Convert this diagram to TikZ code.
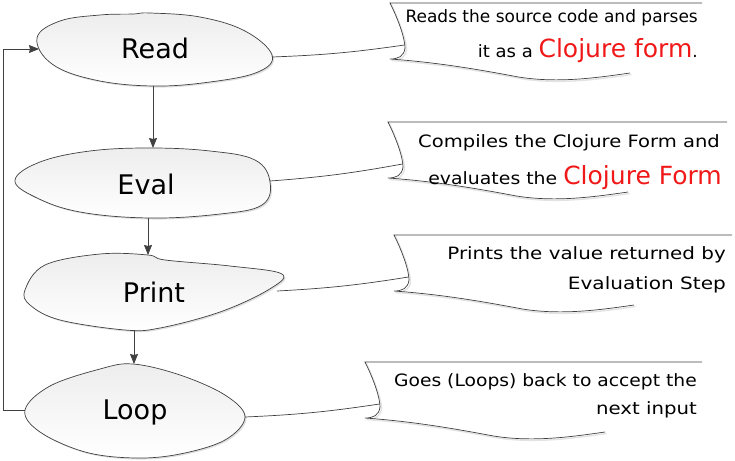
\documentclass[tikz,border=0pt]{standalone}
\usepackage{fontspec}
\usepackage{graphicx}
\setmainfont{DejaVu Sans}
\usetikzlibrary{arrows.meta,shadows}
\definecolor{edge}{HTML}{404040}
\definecolor{cred}{HTML}{F01818}
\newcommand\redtxt[1]{{\fontsize{25}{28}\selectfont\color{cred}#1}}
\newcommand\wide[2]{\scalebox{#1}[1]{#2}}
\tikzset{
  blob/.style={draw=edge, line width=0.7pt, top color=gray!14, bottom color=white,
    drop shadow={opacity=0.25, shadow xshift=1.5pt, shadow yshift=-1.5pt}},
  flow/.style={draw=edge, line width=0.8pt, -{Stealth[length=10pt,width=8pt,inset=1pt]}},
  link/.style={draw=edge, line width=0.7pt},
  blabel/.style={font=\fontsize{27}{30}\selectfont, text=black},
  ctext/.style={font=\fontsize{17}{19}\selectfont, text=black, anchor=base east, inner sep=0pt},
  pics/callout/.style={code={
    \draw[gray!22, line width=1.4pt] (1.5,1.5) .. controls (10,20) and (16.5,38) .. (16.5,46.5)
      .. controls (15.5,55) and (9.5,57.5) .. (1.5,57.5)
      .. controls (50,61) and (90,68) .. (130,75.5) .. controls (170,82) and (210,76) .. (241.5,71.5);
    \draw[edge, line width=0.7pt] (#1,0) -- (0,0) .. controls (9,18) and (15,36) .. (15,45)
      .. controls (14,53.5) and (8,56) .. (0,56)
      .. controls (48.5,59.5) and (88.5,66.5) .. (128.5,74) .. controls (168.5,80.5) and (208.5,74.5) .. (240,70);
    \coordinate (-tip) at (14.5,42);
  }}
}
\begin{document}
\begin{tikzpicture}[x=1pt,y=-1pt]
\useasboundingbox (0,0) rectangle (735,460);

% blobs
\path[blob] plot[smooth cycle, tension=0.65] coordinates {(37,38) (60,21) (100,15) (133,14) (150,13) (200,17) (245,31) (272,55) (258,72) (210,82) (153,86) (95,80) (52,64)};
\path[blob] plot[smooth cycle, tension=0.65] coordinates {(15,180) (40,162) (90,151) (150,148) (210,151) (255,160) (270,182) (262,205) (220,214) (150,218) (80,212) (35,197)};
\path[blob] plot[smooth cycle, tension=0.6] coordinates {(25,290) (45,265) (100,254) (148,255) (165,260) (230,266) (282,274) (268,290) (220,312) (160,328) (125,330) (60,320) (30,305)};
\path[blob] plot[smooth cycle, tension=0.6] coordinates {(25,410) (50,386) (100,369) (133,364) (180,375) (225,395) (245,417) (225,440) (180,454) (135,458) (85,452) (40,432)};

\node[blabel] (read) at (155,48) {Read};
\node[blabel] (eval) at (146,184) {Eval};
\node[blabel] (print) at (154,292) {Print};
\node[blabel] (loop) at (135,412) {Loop};

% blob anchor points
\coordinate (readB) at (153,86);
\coordinate (readW) at (39,49);
\coordinate (readE) at (272,57);
\coordinate (evalT) at (153,148);
\coordinate (evalB) at (148,218);
\coordinate (evalE) at (270,181);
\coordinate (printT) at (148,255);
\coordinate (printB) at (134,330);
\coordinate (printE) at (277,291);
\coordinate (loopT) at (134,364);
\coordinate (loopW) at (25,410);
\coordinate (loopE) at (245,417);
\coordinate (back) at (3,410);

% flow arrows
\draw[flow] (readB) -- (evalT);
\draw[flow] (evalB) -- (printT);
\draw[flow] (printB) -- (loopT);
\draw[flow] (loopW) -- (back) |- (readW);

% callouts
\pic (c1) at (390,3) {callout=312};
\pic (c2) at (388,122) {callout=339};
\pic (c3) at (394,235) {callout=338};
\pic (c4) at (365,362) {callout=337};

\draw[link] (readE) to[bend right=3] (c1-tip);
\draw[link] (evalE) to[bend right=3] (c2-tip);
\draw[link] (printE) to[bend right=3] (c3-tip);
\draw[link] (loopE) to[bend right=3] (c4-tip);

% callout texts
\node[ctext] (t1a) at (698,23) {Reads the source code and parses};
\node[ctext] (t1b) at (698,57) {\wide{1.06}{it as a }\redtxt{Clojure form}.};
\node[ctext] (t2a) at (720,147) {\wide{1.15}{Compiles the Clojure Form and}};
\node[ctext] (t2b) at (722,184) {\wide{1.11}{evaluates the }\redtxt{Clojure Form}};
\node[ctext] (t3a) at (726,259) {\wide{1.17}{Prints the value returned by}};
\node[ctext] (t3b) at (726,289) {\wide{1.18}{Evaluation Step}};
\node[ctext] (t4a) at (697,386) {\wide{1.10}{Goes (Loops) back to accept the}};
\node[ctext] (t4b) at (697,414) {\wide{1.16}{next input}};
\end{tikzpicture}
\end{document}
